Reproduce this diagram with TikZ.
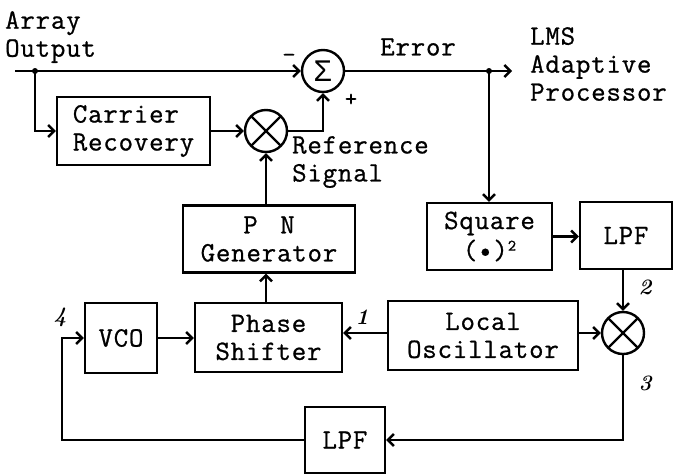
\documentclass[tikz,border=0pt]{standalone}
\usepackage{fontspec}
\setmainfont{Latin Modern Mono}[LetterSpace=3, FakeBold=0.8]
\newfontfamily\numfont{Latin Modern Roman}
\newfontfamily\symfont{Liberation Sans}
\usetikzlibrary{arrows.meta}
\tikzset{
  lbl/.style={font=\fontsize{28}{28}\selectfont, inner sep=0pt, align=left},
  blk/.style={draw, line width=2.4pt, inner sep=0pt, align=center, font=\fontsize{28}{28}\selectfont},
  op/.style={draw, circle, line width=2.4pt, minimum size=42pt, inner sep=0pt},
  num/.style={font=\fontsize{22}{22}\selectfont\numfont\itshape\bfseries, inner sep=0pt},
  sgn/.style={font=\fontsize{24}{24}\selectfont, inner sep=0pt},
  wire/.style={line width=2.4pt},
  arr/.style={wire, -{Straight Barb[length=6pt,width=12pt,line width=2.4pt]}},
  dotn/.style={circle, fill, inner sep=0pt, minimum size=6pt}
}
\newcommand{\crossin}[1]{%
  \draw[wire] ([shift={(-14.5,-14.5)}]#1.center) -- ([shift={(14.5,14.5)}]#1.center);
  \draw[wire] ([shift={(-14.5,14.5)}]#1.center) -- ([shift={(14.5,-14.5)}]#1.center);}
\begin{document}
\begin{tikzpicture}[x=1pt,y=-1pt]
\useasboundingbox (0,0) rectangle (676,474);
% boxes
\node[blk, minimum width=153pt, minimum height=68pt, align=left] (carrier) at (133.5,131) {Carrier\\Recovery};
\node[blk, minimum width=172pt, minimum height=67pt] (pn) at (269,239) {P\hspace{22.5pt}N\\Generator};
\node[blk, minimum width=147pt, minimum height=69pt] (ps) at (268.5,337.5) {Phase\\Shifter};
\node[blk, minimum width=72pt, minimum height=70pt] (vco) at (121,338) {VCO};
\node[blk, minimum width=190pt, minimum height=69pt] (lo) at (483,335.5) {Local\\Oscillator};
\node[blk, minimum width=125pt, minimum height=67pt, font=\fontsize{28}{30}\selectfont] (sq) at (489.5,236.5) {Square\\(\textbullet)\raisebox{0.3em}{\fontsize{16}{16}\selectfont 2}};
\node[blk, minimum width=92pt, minimum height=67pt] (lpfa) at (626,235.5) {LPF};
\node[blk, minimum width=80pt, minimum height=66pt] (lpfb) at (345,440) {LPF};
% operators
\node[op] (sum) at (323,71) {\fontsize{30}{30}\selectfont\symfont Σ};
\node[op] (m1) at (266,131) {};
\crossin{m1}
\node[op] (m2) at (623,333) {};
\crossin{m2}
% coordinates
\coordinate (in) at (15,71);
\node[dotn] (split) at (35,71) {};
\node[dotn] (tap) at (489,71) {};
\coordinate (out) at (512,71);
\coordinate (c4) at (62,0);
% connectors
\draw[arr] (in) -- (sum.west);
\draw[arr] (split.center) |- (carrier.west);
\draw[arr] (carrier.east) -- (m1.west);
\draw[arr] (m1.east) -| (sum.south);
\draw[arr] (sum.east) -- (out);
\draw[arr] (tap.center) -- (sq.north -| tap);
\draw[arr] (sq.east) -- (sq.east -| lpfa.west);
\draw[arr] (lpfa.south -| m2) -- (m2.north);
\draw[arr] (lo.east |- m2) -- (m2.west);
\draw[arr] (lo.west |- m2) -- (ps.east |- m2);
\draw[arr] (m2.south) |- (lpfb.east);
\draw[arr] (lpfb.west) -- (lpfb.west -| c4) -- (c4 |- vco.west) -- (vco.west);
\draw[arr] (vco.east) -- (vco.east -| ps.west);
\draw[arr] (ps.north -| m1) -- (pn.south -| m1);
\draw[arr] (pn.north -| m1) -- (m1.south);
% labels
\node[lbl, anchor=north west] (arrayout) at (5,11) {Array\\Output};
\node[lbl] (err) at (418,47) {Error};
\node[lbl, anchor=north west] (lms) at (530,27) {LMS\\Adaptive\\Processor};
\node[lbl, anchor=north west] (ref) at (292,136) {Reference\\Signal};
\node[sgn] (minus) at (289,58) {−};
\node[sgn] (plus) at (351,100) {+};
\node[num] (n1) at (362,317) {1};
\node[num] (n2) at (645,287) {2};
\node[num] (n3) at (645,383) {3};
\node[num] (n4) at (60,317) {4};
\end{tikzpicture}
\end{document}
